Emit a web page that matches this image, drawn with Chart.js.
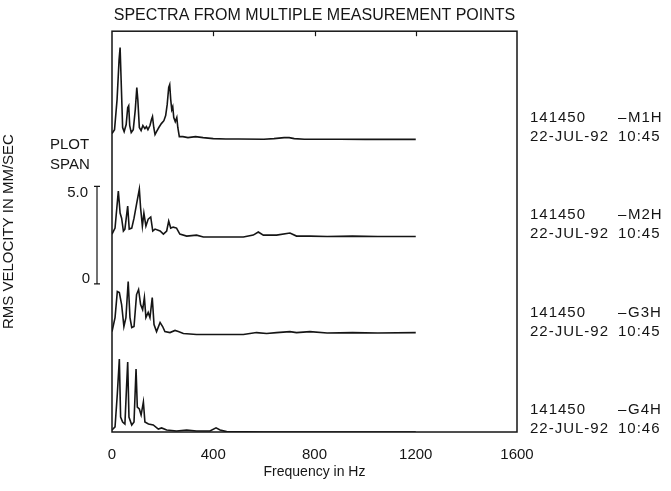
<!DOCTYPE html>
<html>
<head>
<meta charset="utf-8">
<script src="https://cdn.jsdelivr.net/npm/chart.js@4.4.1/dist/chart.umd.min.js"></script>
<style>
  html, body { margin: 0; padding: 0; background: #fff; }
  #wrap { width: 671px; height: 491px; }
</style>
</head>
<body>
<div id="wrap"><canvas id="spectra" width="671" height="491"></canvas></div>
<script>
// frequencies (Hz) and RMS velocity (mm/sec)
const m1hFreq = [0, 10, 20, 28, 32, 36, 42, 48, 56, 62, 66, 70, 76, 84, 92, 98, 102, 108, 115, 122, 130, 136, 142, 150, 156, 160, 165, 170, 176, 185, 195, 205, 212, 218, 224, 228, 232, 236, 240, 244, 250, 256, 260, 266, 280, 300, 330, 360, 400, 450, 500, 600, 640, 680, 700, 720, 760, 900, 1000, 1200];
const m1hVel  = [0.31, 0.51, 2.05, 4.10, 4.72, 3.08, 0.62, 0.41, 0.77, 1.64, 1.74, 0.72, 0.36, 0.51, 1.54, 2.67, 2.05, 0.62, 0.46, 0.72, 0.56, 0.67, 0.51, 0.72, 1.03, 1.18, 0.62, 0.26, 0.41, 0.62, 0.82, 0.97, 1.23, 1.79, 2.67, 2.82, 2.05, 1.54, 1.69, 1.13, 0.92, 1.13, 0.62, 0.15, 0.15, 0.10, 0.15, 0.10, 0.05, 0.03, 0.03, 0.02, 0.05, 0.10, 0.10, 0.05, 0.02, 0.02, 0.01, 0.01];

const m2hFreq = [0, 12, 25, 32, 38, 45, 51, 62, 68, 78, 87, 97, 108, 113, 120, 126, 134, 143, 153, 161, 170, 190, 203, 216, 224, 232, 242, 255, 268, 295, 334, 361, 519, 558, 578, 598, 650, 703, 729, 782, 850, 950, 1050, 1200];
const m2hVel  = [0.15, 0.46, 2.36, 1.23, 0.97, 0.31, 0.41, 1.59, 0.41, 0.46, 0.97, 1.69, 2.46, 1.49, 0.56, 1.23, 0.56, 0.92, 1.03, 0.31, 0.41, 0.31, 0.15, 0.31, 0.82, 0.46, 0.51, 0.46, 0.15, 0.05, 0.10, 0, 0, 0.10, 0.26, 0.10, 0.10, 0.21, 0.05, 0.05, 0.03, 0.05, 0.03, 0.03];

const g3hFreq = [0, 12, 21, 29, 38, 47, 55, 64, 71, 78, 87, 97, 105, 113, 121, 128, 134, 143, 150, 159, 166, 176, 190, 200, 209, 229, 249, 262, 282, 334, 519, 571, 611, 650, 703, 729, 782, 850, 950, 1050, 1200];
const g3hVel  = [0.15, 0.87, 2.21, 2.15, 1.54, 0.41, 0.87, 2.72, 0.87, 0.36, 0.41, 2.05, 2.31, 1.54, 1.28, 1.90, 0.87, 1.13, 0.87, 1.90, 0.51, 0.15, 0.62, 0.41, 0.15, 0.10, 0.21, 0.15, 0.05, 0, 0, 0.10, 0.05, 0.10, 0.15, 0.10, 0.15, 0.08, 0.10, 0.08, 0.10];

const g4hFreq = [0, 12, 21, 29, 34, 42, 51, 58, 62, 67, 78, 87, 95, 100, 108, 115, 124, 130, 144, 163, 183, 196, 216, 255, 295, 334, 387, 411, 427, 453, 600, 1200];
const g4hVel  = [0.10, 0.26, 1.95, 3.74, 0.77, 0.51, 0.41, 2.46, 3.59, 0.77, 0.36, 0.51, 3.23, 1.28, 1.18, 0.87, 1.54, 0.51, 0.41, 0.36, 0.15, 0.21, 0.10, 0.05, 0.10, 0.05, 0.05, 0.21, 0.10, 0.02, 0, 0];

const pointIds = ['M1H', 'M2H', 'G3H', 'G4H'];
const recordNo = '141450';
const dates = ['22-JUL-92', '22-JUL-92', '22-JUL-92', '22-JUL-92'];
const times = ['10:45', '10:45', '10:45', '10:46'];
const freqTicks = [0, 400, 800, 1200, 1600];

const INK = '#151515';
const FONT = "'Liberation Sans', Arial, Helvetica, sans-serif";
const STEP = 5;          // vertical offset between traces (mm/sec)
const SPAN_BASE = 7.6;   // where the 0..5.0 plot span bar sits
const SPAN = 5.0;

const traces = [
  [m1hFreq, m1hVel],
  [m2hFreq, m2hVel],
  [g3hFreq, g3hVel],
  [g4hFreq, g4hVel]
];

const datasets = traces.map(([f, v], i) => {
  const off = (traces.length - 1 - i) * STEP;
  return {
    label: pointIds[i],
    data: f.map((hz, k) => ({ x: hz, y: v[k] + off })),
    borderColor: INK,
    borderWidth: 1.6,
    pointRadius: 0,
    tension: 0,
    fill: false
  };
});

// frame, top ticks, plot span bar and the right hand labels
const decorations = {
  id: 'decorations',
  afterDraw(chart) {
    const { ctx, chartArea: a, scales: { x, y } } = chart;
    ctx.save();
    ctx.strokeStyle = INK;
    ctx.fillStyle = INK;
    ctx.lineWidth = 1.5;
    ctx.strokeRect(a.left, a.top, a.right - a.left, a.bottom - a.top);

    ctx.lineWidth = 1.2;
    freqTicks.slice(1, -1).forEach(t => {
      const px = Math.round(x.getPixelForValue(t)) + 0.5;
      ctx.beginPath();
      ctx.moveTo(px, a.top);
      ctx.lineTo(px, a.top + 5);
      ctx.stroke();
    });

    // plot span
    const sTop = y.getPixelForValue(SPAN_BASE + SPAN);
    const sBot = y.getPixelForValue(SPAN_BASE);
    const bx = a.left - 15;
    ctx.lineWidth = 1.2;
    ctx.beginPath();
    ctx.moveTo(bx, sTop); ctx.lineTo(bx, sBot);
    ctx.moveTo(bx - 3, sTop); ctx.lineTo(bx + 3, sTop);
    ctx.moveTo(bx - 3, sBot); ctx.lineTo(bx + 3, sBot);
    ctx.stroke();

    ctx.font = '15px ' + FONT;
    ctx.textBaseline = 'middle';
    ctx.textAlign = 'left';
    ctx.fillText('PLOT', 50, sTop - 42);
    ctx.fillText('SPAN', 50, sTop - 22);
    ctx.textAlign = 'right';
    ctx.fillText(SPAN.toFixed(1), bx - 9, sTop + 6);
    ctx.fillText('0', bx - 7, sBot - 5);

    // record / point / date labels beside each trace
    ctx.textAlign = 'left';
    ctx.letterSpacing = '1px';
    pointIds.forEach((id, i) => {
      const base = y.getPixelForValue((traces.length - 1 - i) * STEP);
      const tx = a.right + 13;
      ctx.fillText(recordNo, tx, base - 22);
      ctx.fillText('\u2013', tx + 88, base - 22);
      ctx.fillText(id, tx + 98, base - 22);
      ctx.fillText(dates[i], tx, base - 3);
      ctx.fillText(times[i], tx + 88, base - 3);
    });
    ctx.restore();
  }
};

new Chart(document.getElementById('spectra'), {
  type: 'line',
  data: { datasets },
  plugins: [decorations],
  options: {
    responsive: false,
    animation: false,
    events: [],
    layout: { padding: { left: 0, right: 154, top: 0, bottom: 0 } },
    plugins: {
      legend: { display: false },
      tooltip: { enabled: false },
      title: {
        display: true,
        fullSize: false,
        text: 'SPECTRA FROM MULTIPLE MEASUREMENT POINTS',
        color: INK,
        font: { family: FONT, size: 16, weight: 'normal' },
        padding: { top: 6, bottom: 6 }
      }
    },
    scales: {
      x: {
        type: 'linear',
        min: 0,
        max: 1600,
        afterBuildTicks: s => { s.ticks = freqTicks.map(v => ({ value: v })); },
        afterFit: s => { s.height = 59; },
        ticks: {
          color: INK,
          padding: 14,
          maxRotation: 0,
          font: { family: FONT, size: 15 },
          callback: v => String(v)
        },
        grid: { display: false, drawTicks: false },
        border: { display: false },
        title: {
          display: true,
          text: 'Frequency in Hz',
          color: INK,
          font: { family: FONT, size: 14 },
          padding: { top: 0, bottom: 10 }
        }
      },
      y: {
        type: 'linear',
        min: 0,
        max: 20.56,
        afterFit: s => { s.width = 112; },
        ticks: { display: false },
        grid: { display: false, drawTicks: false },
        border: { display: false },
        title: {
          display: true,
          text: 'RMS VELOCITY IN MM/SEC',
          color: INK,
          font: { family: FONT, size: 15 },
          padding: { top: 0, bottom: 0 }
        }
      }
    }
  }
});
</script>
</body>
</html>
